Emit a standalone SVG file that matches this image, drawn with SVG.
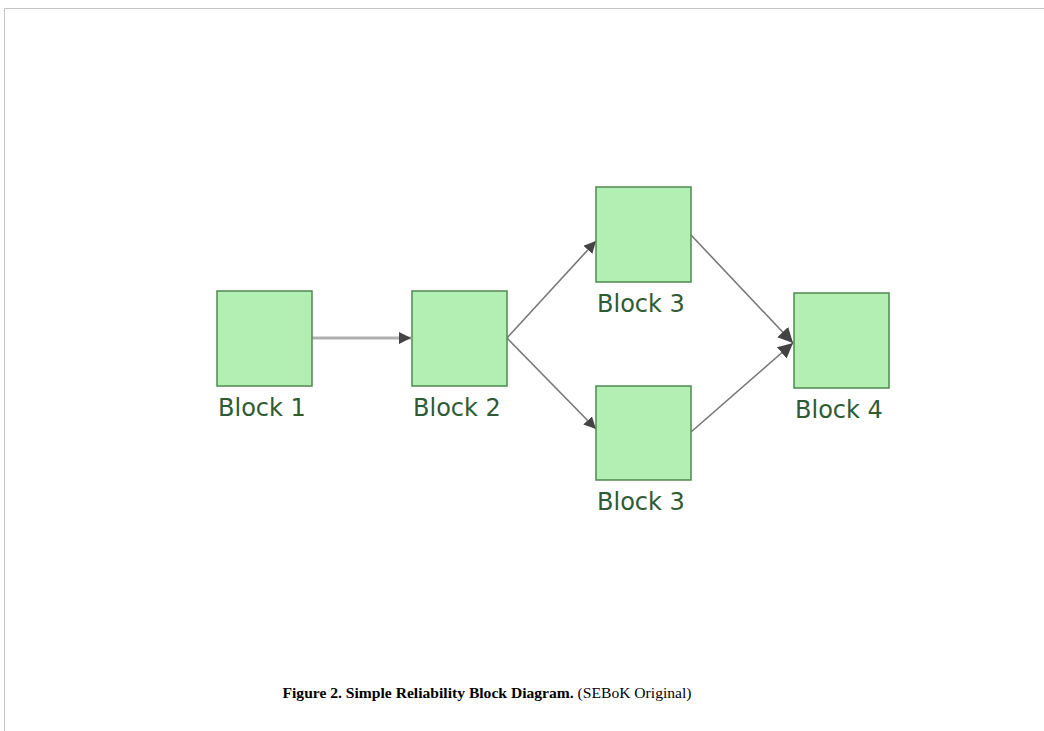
<svg xmlns="http://www.w3.org/2000/svg" width="1044" height="731" viewBox="0 0 1044 731">
<style>
.blk{fill:#b3eeb3;stroke:#4d8a4d;stroke-width:1.5}
.lbl{font-family:"DejaVu Sans",Verdana,sans-serif;font-size:24px;fill:#2e5a34}
.ln{stroke:#777;stroke-width:1.6;fill:none}
.cap{font-family:"Liberation Serif","Times New Roman",serif;font-size:15.6px;fill:#000}
</style>
<defs>
<marker id="ah" viewBox="0 0 10 10" refX="10" refY="5" markerWidth="12" markerHeight="12" markerUnits="userSpaceOnUse" orient="auto">
<path d="M0,0 L10,5 L0,10 Z" fill="#444"/>
</marker>
<marker id="ah2" viewBox="0 0 10 10" refX="10" refY="5" markerWidth="15" markerHeight="15" markerUnits="userSpaceOnUse" orient="auto">
<path d="M0,0 L10,5 L0,10 Z" fill="#444"/>
</marker>
</defs>
<rect width="1044" height="731" fill="#fff"/>
<path d="M4.5,731 V8.5 H1044" fill="none" stroke="#c4c4c4" stroke-width="1"/>
<g id="connectors">
<line x1="312" y1="338" x2="411" y2="338" stroke="#b0b0b0" stroke-width="3" marker-end="url(#ah)"/>
<line class="ln" x1="507" y1="338" x2="596" y2="241" marker-end="url(#ah)"/>
<line class="ln" x1="507" y1="338" x2="596" y2="429" marker-end="url(#ah)"/>
<line class="ln" x1="691" y1="235" x2="793" y2="343" marker-end="url(#ah2)"/>
<line class="ln" x1="691" y1="432" x2="793" y2="343" marker-end="url(#ah2)"/>
</g>
<g id="block1"><rect class="blk" x="217" y="291" width="95" height="95"/><text class="lbl" x="218" y="416">Block 1</text></g>
<g id="block2"><rect class="blk" x="412" y="291" width="95" height="95"/><text class="lbl" x="413" y="416">Block 2</text></g>
<g id="block3a"><rect class="blk" x="596" y="187" width="95" height="95"/><text class="lbl" x="597" y="312">Block 3</text></g>
<g id="block3b"><rect class="blk" x="596" y="386" width="95" height="94"/><text class="lbl" x="597" y="510">Block 3</text></g>
<g id="block4"><rect class="blk" x="794" y="293" width="95" height="95"/><text class="lbl" x="795" y="418">Block 4</text></g>
<text class="cap" x="487" y="698" text-anchor="middle"><tspan font-weight="bold">Figure 2. Simple Reliability Block Diagram.</tspan> (SEBoK Original)</text>
</svg>
